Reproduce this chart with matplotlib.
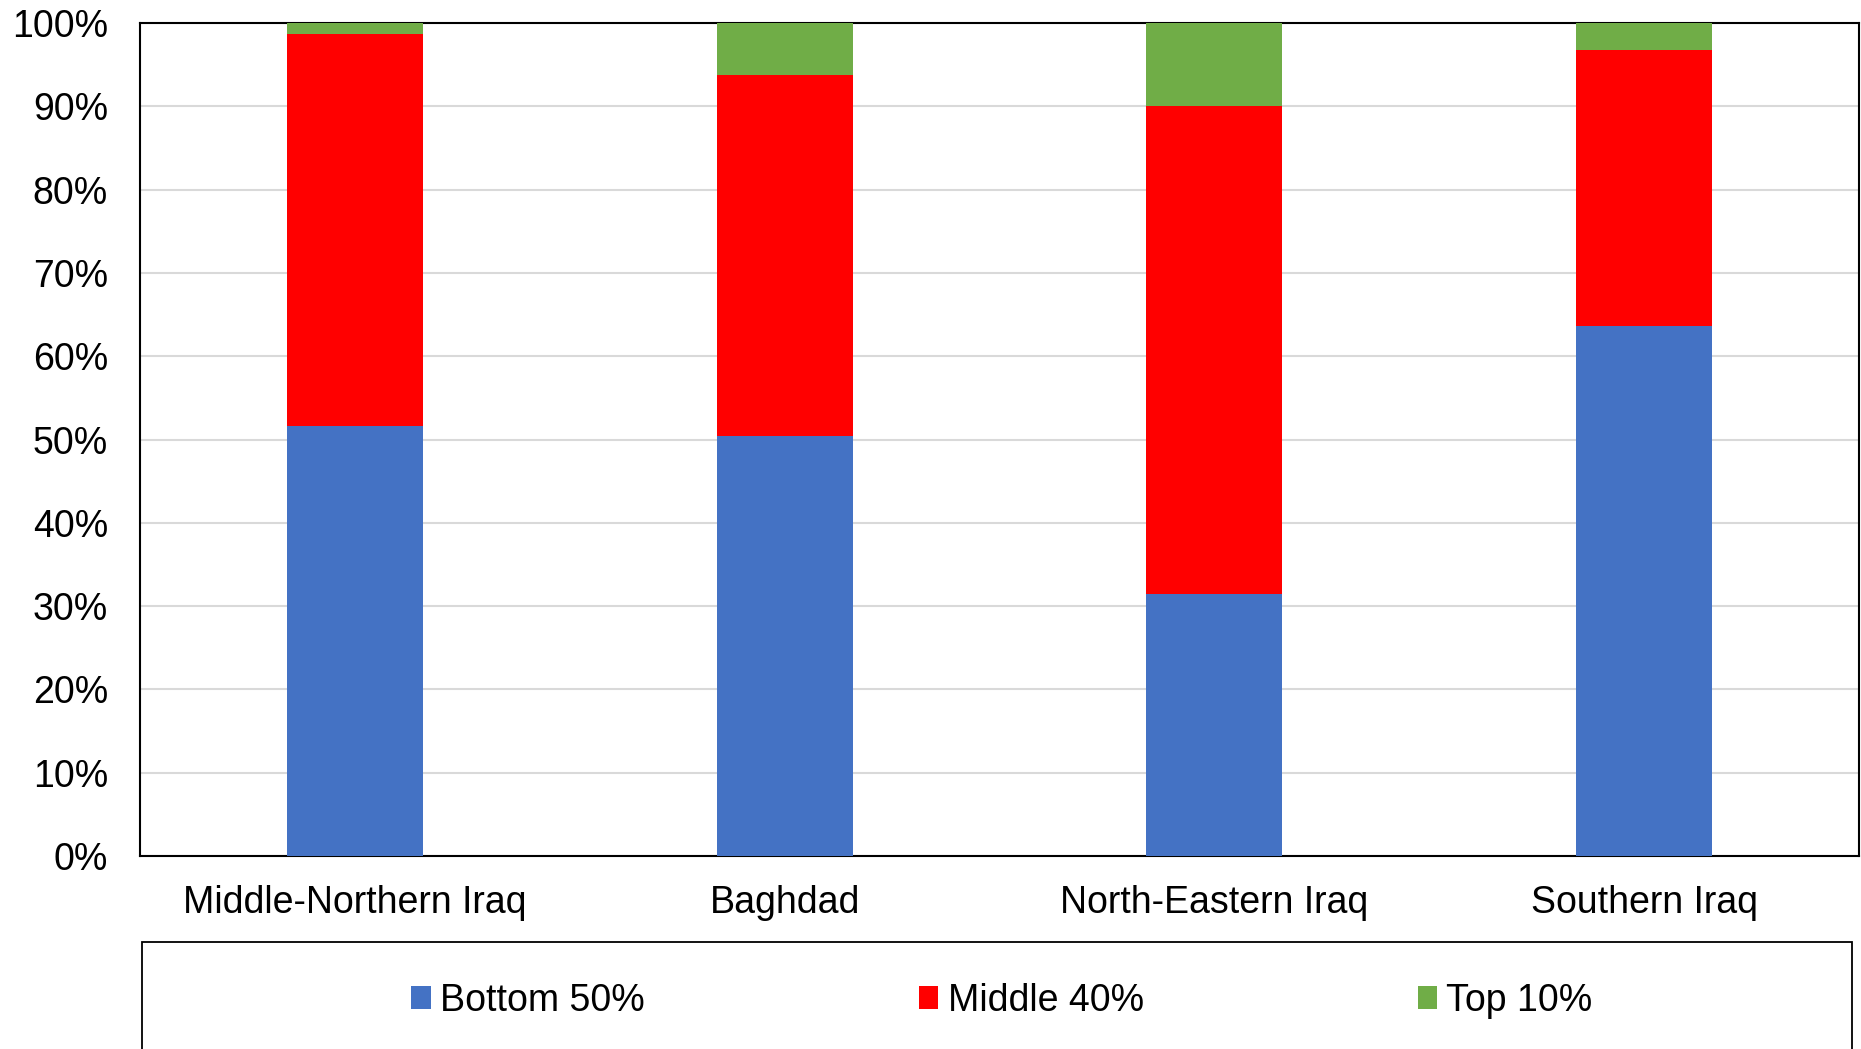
import matplotlib as mpl
mpl.use('Agg')
import matplotlib.pyplot as plt
import matplotlib.patches as mpatches
import numpy as np

plt.rcParams['font.family'] = ['Liberation Sans', 'DejaVu Sans']
plt.rcParams['font.size'] = 27

# data (share of income, %)
regions = ["Middle-Northern Iraq", "Baghdad", "North-Eastern Iraq", "Southern Iraq"]
bottom50 = [51.6, 50.4, 31.4, 63.6]
middle40 = [47.1, 43.4, 58.6, 33.1]
top10 = [1.3, 6.2, 10.0, 3.3]
series_names = ["Bottom 50%", "Middle 40%", "Top 10%"]
colors = ["#4472C4", "#FF0000", "#70AD47"]
yticks = list(range(0, 101, 10))

W, H = 1861, 1049
fig = plt.figure(figsize=(W/100, H/100), dpi=100)
ax = fig.add_axes([140/W, 1-856/H, 1719/W, (856-23)/H])

x = np.arange(len(regions))
base = np.zeros(len(regions))
for vals, name, c in zip([bottom50, middle40, top10], series_names, colors):
    ax.bar(x, vals, width=0.317, bottom=base, color=c, label=name, zorder=3)
    base = base + np.array(vals)

ax.set_xlim(-0.5, len(regions)-0.5)
ax.set_ylim(0, 100)
ax.set_yticks(yticks)
ax.set_yticklabels(["{}%".format(v) for v in yticks])
ax.set_xticks(x)
ax.set_xticklabels(regions)
ax.tick_params(axis='y', length=0, pad=23)
ax.tick_params(axis='x', length=0, pad=21)
ax.grid(axis='y', color='#d9d9d9', linewidth=1.5, zorder=0)
for s in ax.spines.values():
    s.set_color('black')
    s.set_linewidth(1.5)

# legend box
fig.patches.append(mpatches.Rectangle((142/W, -0.02), (1852-142)/W, (1049-942)/H+0.02,
                                      transform=fig.transFigure, fill=False,
                                      edgecolor='black', linewidth=1.3))
handles, labels = ax.get_legend_handles_labels()
fig.legend(handles, labels, loc='center', bbox_to_anchor=(1002/W, 1-1001/H), ncol=3,
           frameon=False, handlelength=0.52, handleheight=0.55, handletextpad=0.25,
           columnspacing=7.3, fontsize=27)

fig.savefig("out.png", dpi=100)
